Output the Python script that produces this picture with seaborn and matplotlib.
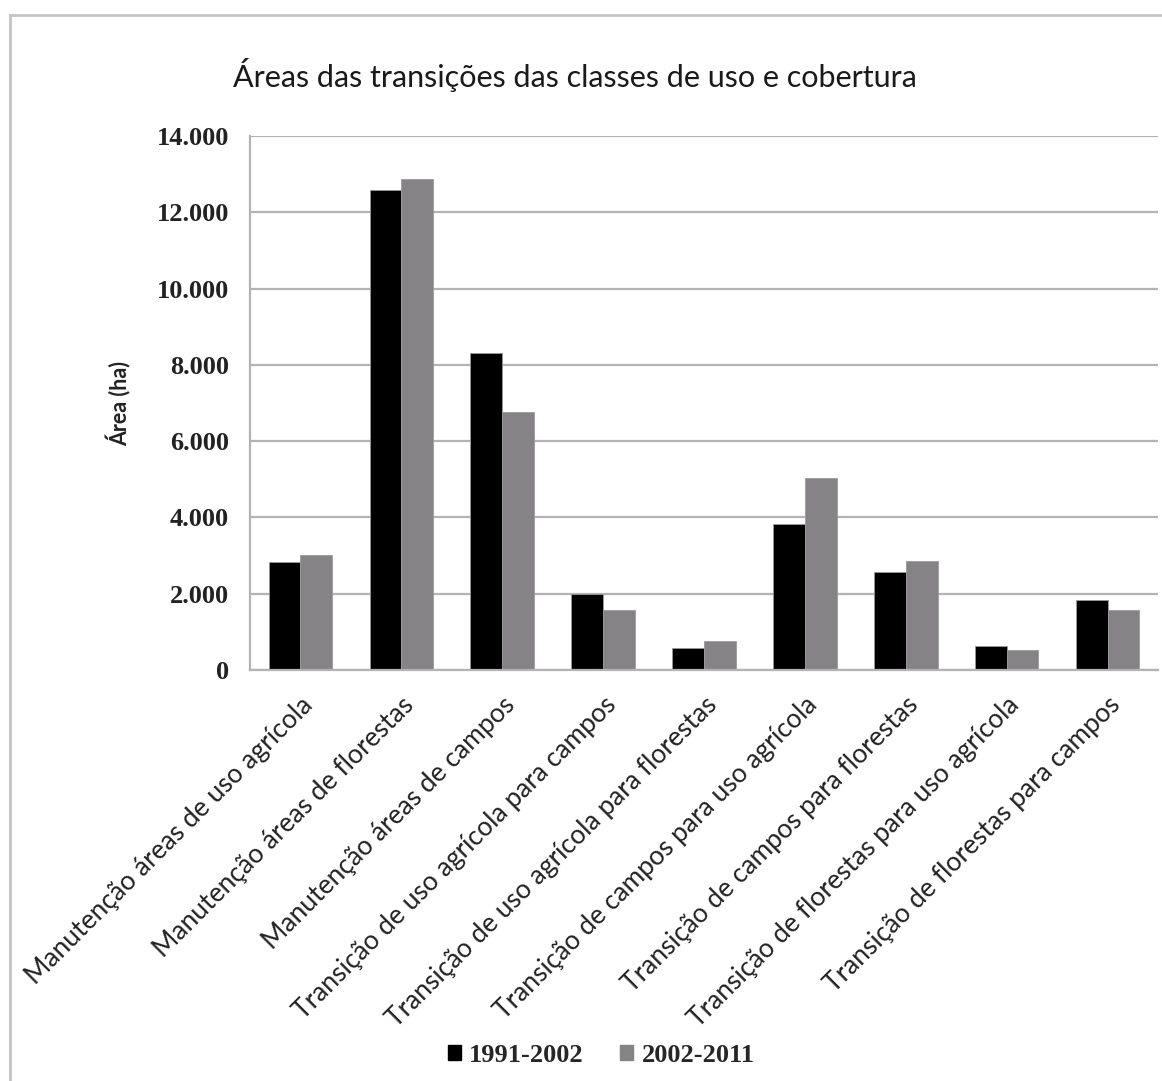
import pandas as pd
import matplotlib.pyplot as plt
import matplotlib.patches as mpatches
from matplotlib.ticker import FuncFormatter
import seaborn as sns

# ---------------- data ----------------
classes = [
    "Manutenção áreas de uso agrícola",
    "Manutenção áreas de florestas",
    "Manutenção áreas de campos",
    "Transição de uso agrícola para campos",
    "Transição de uso agrícola para florestas",
    "Transição de campos para uso agrícola",
    "Transição de campos para florestas",
    "Transição de florestas para uso agrícola",
    "Transição de florestas para campos",
]
area_1991_2002 = [2820, 12580, 8310, 1980, 570, 3840, 2570, 620, 1830]
area_2002_2011 = [3020, 12860, 6770, 1580, 750, 5040, 2850, 530, 1580]
periods = ["1991-2002", "2002-2011"]
colors = ["#000000", "#858385"]

df = pd.DataFrame({
    "classe": classes * 2,
    "periodo": [periods[0]] * len(classes) + [periods[1]] * len(classes),
    "area": area_1991_2002 + area_2002_2011,
})

# ---------------- plot ----------------
sns.set_style("white")
plt.rcParams["font.family"] = ["Lato", "DejaVu Sans"]

fig = plt.figure(figsize=(11.62, 10.81), dpi=100)
ax = fig.add_axes([250 / 1162, 1 - 670 / 1081, 908 / 1162, 534 / 1081])

sns.barplot(data=df, x="classe", y="area", hue="periodo", palette=colors,
            width=0.63, edgecolor="#9a9a9a", linewidth=0.6, ax=ax, legend=False)

ax.set_ylim(0, 14000)
ax.set_yticks(range(0, 14001, 2000))
ax.yaxis.set_major_formatter(FuncFormatter(lambda v, p: f"{int(v):,}".replace(",", ".")))
ax.grid(axis="y", color="#b4b2b6", linewidth=1.6)
ax.set_axisbelow(True)
for s in ["top", "right"]:
    ax.spines[s].set_visible(False)
for s in ["left", "bottom"]:
    ax.spines[s].set_color("#b4b2b6")
    ax.spines[s].set_linewidth(1.6)
ax.tick_params(axis="y", length=0, pad=15)

for lab in ax.get_yticklabels():
    lab.set_fontfamily("Liberation Serif")
    lab.set_fontweight("bold")
    lab.set_fontsize(19)
    lab.set_color("#222222")

ax.set_xlabel("")
ax.set_xticks(range(len(classes)))
ax.set_xticklabels(classes, rotation=45, ha="right", rotation_mode="anchor",
                   fontsize=19, color="#222222")
ax.tick_params(axis="x", length=0, pad=16)

ax.set_ylabel("Área (ha)", fontsize=15.5, fontweight="bold", labelpad=18, color="#222222")

fig.text(575 / 1162, 1 - 75 / 1081, "Áreas das transições das classes de uso e cobertura",
         ha="center", va="center", fontsize=22, color="#1a1a1a")

handles = [mpatches.Patch(color=c, label=p) for c, p in zip(colors, periods)]
fig.legend(handles=handles, loc="center", bbox_to_anchor=(601 / 1162, 1 - 1055 / 1081),
           ncol=2, frameon=False, handlelength=0.5, handleheight=0.5,
           handletextpad=0.3, columnspacing=1.4,
           prop={"family": "Liberation Serif", "weight": "bold", "size": 19})

# outer chart border
fig.patches.append(mpatches.Rectangle((10 / 1162, -0.01), 1.02, 1 - 15 / 1081 + 0.01,
                                      transform=fig.transFigure, fill=False,
                                      edgecolor="#c4c4c4", linewidth=2))

fig.savefig("out.png", dpi=100, facecolor="white")
